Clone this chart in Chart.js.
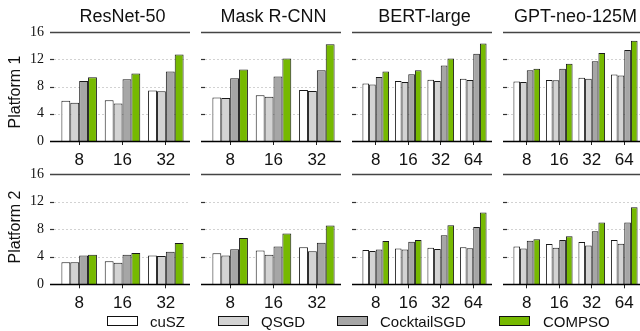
<!DOCTYPE html>
<html><head><meta charset="utf-8">
<script src="https://cdn.jsdelivr.net/npm/chart.js@4.4.0/dist/chart.umd.min.js"></script>
<style>
html,body{margin:0;padding:0;background:#fff;overflow:hidden;width:640px;height:331px;}
#wrap{position:relative;width:640px;height:331px;overflow:hidden;font-family:"Liberation Sans",Arial,sans-serif;color:#111;}
canvas{position:absolute;}
.title{position:absolute;font-size:18px;line-height:18px;white-space:nowrap;transform:translateX(-50%);}
.rowlab{position:absolute;font-size:16px;line-height:18px;white-space:nowrap;transform:translate(-50%,-50%) rotate(-90deg);}
.leg-box{position:absolute;width:29px;height:8px;border:1px solid #111;}
.leg-txt{position:absolute;font-size:15px;line-height:15px;white-space:nowrap;}
</style></head><body><div id="wrap"></div>
<script>
const methods = ['cuSZ', 'QSGD', 'CocktailSGD', 'COMPSO'];
const colors = ['#ffffff', '#d3d3d3', '#a6a6a6', '#76b900'];
const models = ['ResNet-50', 'Mask R-CNN', 'BERT-large', 'GPT-neo-125M'];
const platforms = ['Platform 1', 'Platform 2'];
const nodes3 = ['8', '16', '32'];
const nodes4 = ['8', '16', '32', '64'];
const yTicks = [0, 4, 8, 12, 16];

// each array: [cuSZ, QSGD, CocktailSGD, COMPSO] per node count
const resnet50_p1 = [[5.9, 6.0, 7.4], [5.6, 5.5, 7.3], [8.8, 9.05, 10.2], [9.35, 9.9, 12.7]];
const maskrcnn_p1 = [[6.4, 6.7, 7.5], [6.3, 6.5, 7.35], [9.2, 9.45, 10.4], [10.5, 12.1, 14.2]];
const bert_p1 = [[8.45, 8.8, 9.0, 9.15], [8.3, 8.65, 8.8, 8.95], [9.4, 9.8, 11.1, 12.8], [10.2, 10.4, 12.1, 14.3]];
const gptneo_p1 = [[8.75, 8.95, 9.3, 9.75], [8.65, 8.9, 9.15, 9.6], [10.4, 10.6, 11.7, 13.35], [10.6, 11.35, 12.9, 14.7]];
const resnet50_p2 = [[3.2, 3.35, 4.2], [3.2, 3.15, 4.1], [4.2, 4.3, 4.75], [4.3, 4.55, 6.0]];
const maskrcnn_p2 = [[4.5, 4.9, 5.4], [4.2, 4.3, 4.8], [5.1, 5.5, 6.05], [6.75, 7.4, 8.55]];
const bert_p2 = [[5.0, 5.2, 5.3, 5.4], [4.85, 5.05, 5.15, 5.25], [5.05, 6.2, 7.15, 8.35], [6.3, 6.45, 8.6, 10.45]];
const gptneo_p2 = [[5.5, 5.85, 6.15, 6.45], [5.2, 5.3, 5.65, 5.9], [6.35, 6.45, 7.7, 9.0], [6.55, 7.0, 9.0, 11.2]];

const panelLabels = [nodes3, nodes3, nodes4, nodes4];
const panelData = [
  [resnet50_p1, maskrcnn_p1, bert_p1, gptneo_p1],
  [resnet50_p2, maskrcnn_p2, bert_p2, gptneo_p2]
];

const wrap = document.getElementById('wrap');

const linesPlugin = {
  id: 'panelLines',
  beforeDatasetsDraw(chart) {
    const {ctx, chartArea: ca, scales: {y}} = chart;
    const L = ca.left - 7.5, R = ca.right + 3;
    ctx.save();
    y.ticks.forEach(t => {
      const v = t.value;
      const py = Math.round(y.getPixelForValue(v)) + 0.5;
      if (v === y.min) return;
      if (v === y.max) {
        ctx.setLineDash([]);
        ctx.strokeStyle = '#444';
        ctx.lineWidth = 1.4;
        ctx.beginPath(); ctx.moveTo(L, py); ctx.lineTo(R, py); ctx.stroke();
      } else {
        ctx.setLineDash([2, 2]);
        ctx.strokeStyle = '#d2d2d2';
        ctx.lineWidth = 1;
        ctx.beginPath(); ctx.moveTo(L + 4, py); ctx.lineTo(R, py); ctx.stroke();
        ctx.setLineDash([]);
        ctx.strokeStyle = '#333';
        ctx.lineWidth = 1.2;
        ctx.beginPath(); ctx.moveTo(L, py); ctx.lineTo(L + 4, py); ctx.stroke();
      }
    });
    ctx.restore();
  },
  afterDatasetsDraw(chart) {
    const {ctx, chartArea: ca, scales: {y}} = chart;
    const L = ca.left - 7.5, R = ca.right + 3;
    const py = Math.round(y.getPixelForValue(y.min)) + 0.5;
    ctx.save();
    ctx.strokeStyle = '#000';
    ctx.lineWidth = 1.4;
    ctx.beginPath(); ctx.moveTo(L, py); ctx.lineTo(R, py); ctx.stroke();
    ctx.restore();
  }
};

function makePanel(row, col) {
  const labels = panelLabels[col];
  const series = panelData[row][col];
  const T = row === 0 ? 0 : 142;
  const A = row === 0 ? 32 : 174.3;
  const B = row === 0 ? 141 : 284.3;
  const H = row === 0 ? 170 : 171;
  const W = 190;
  const c = document.createElement('canvas');
  c.width = W; c.height = H;
  c.style.left = (151 * col) + 'px';
  c.style.top = T + 'px';
  c.style.width = W + 'px';
  c.style.height = H + 'px';
  wrap.appendChild(c);
  new Chart(c, {
    type: 'bar',
    data: {
      labels: labels,
      datasets: methods.map((m, k) => ({
        label: m,
        data: series[k],
        backgroundColor: colors[k],
        borderColor: '#1a1a1a',
        borderWidth: 1,
        borderSkipped: 'start',
        categoryPercentage: 0.82,
        barPercentage: 1
      }))
    },
    options: {
      responsive: false,
      animation: false,
      devicePixelRatio: 1,
      layout: {padding: {left: 0, right: 2.5, top: A - T, bottom: 0}},
      plugins: {legend: {display: false}, tooltip: {enabled: false}, title: {display: false}},
      scales: {
        x: {
          grid: {display: true, drawOnChartArea: false, drawTicks: true, tickLength: 4, color: '#222', offset: false, lineWidth: 1},
          border: {display: false},
          ticks: {font: {family: 'Liberation Sans', size: 17}, color: '#111', padding: 5, autoSkip: false, maxRotation: 0, minRotation: 0},
          afterFit: s => { s.height = H - (B - T); }
        },
        y: {
          min: 0, max: 16,
          afterBuildTicks: s => { s.ticks = yTicks.map(v => ({value: v})); },
          grid: {display: false, drawTicks: false},
          border: {display: false},
          ticks: {display: col === 0, font: {family: 'Liberation Serif', size: 14}, color: '#111', padding: 13.5},
          afterFit: s => { s.width = 57.5; }
        }
      }
    },
    plugins: [linesPlugin]
  });
}

for (let r = 0; r < 2; r++) for (let cI = 0; cI < 4; cI++) makePanel(r, cI);

// column titles
models.forEach((m, i) => {
  const d = document.createElement('div');
  d.className = 'title';
  d.textContent = m;
  d.style.left = (122.5 + 151 * i) + 'px';
  d.style.top = '7px';
  wrap.appendChild(d);
});

// row labels
const rowCenters = [91.5, 227];
platforms.forEach((p, i) => {
  const d = document.createElement('div');
  d.className = 'rowlab';
  d.textContent = p;
  d.style.left = '14.5px';
  d.style.top = rowCenters[i] + 'px';
  wrap.appendChild(d);
});

// legend
const legBoxX = [107, 218, 337, 499];
const legTxtX = [150, 261, 380, 543];
methods.forEach((m, k) => {
  const b = document.createElement('div');
  b.className = 'leg-box';
  b.style.left = legBoxX[k] + 'px';
  b.style.top = '316px';
  b.style.background = colors[k];
  wrap.appendChild(b);
  const t = document.createElement('div');
  t.className = 'leg-txt';
  t.textContent = m;
  t.style.left = legTxtX[k] + 'px';
  t.style.top = '313.5px';
  wrap.appendChild(t);
});
</script></body></html>
